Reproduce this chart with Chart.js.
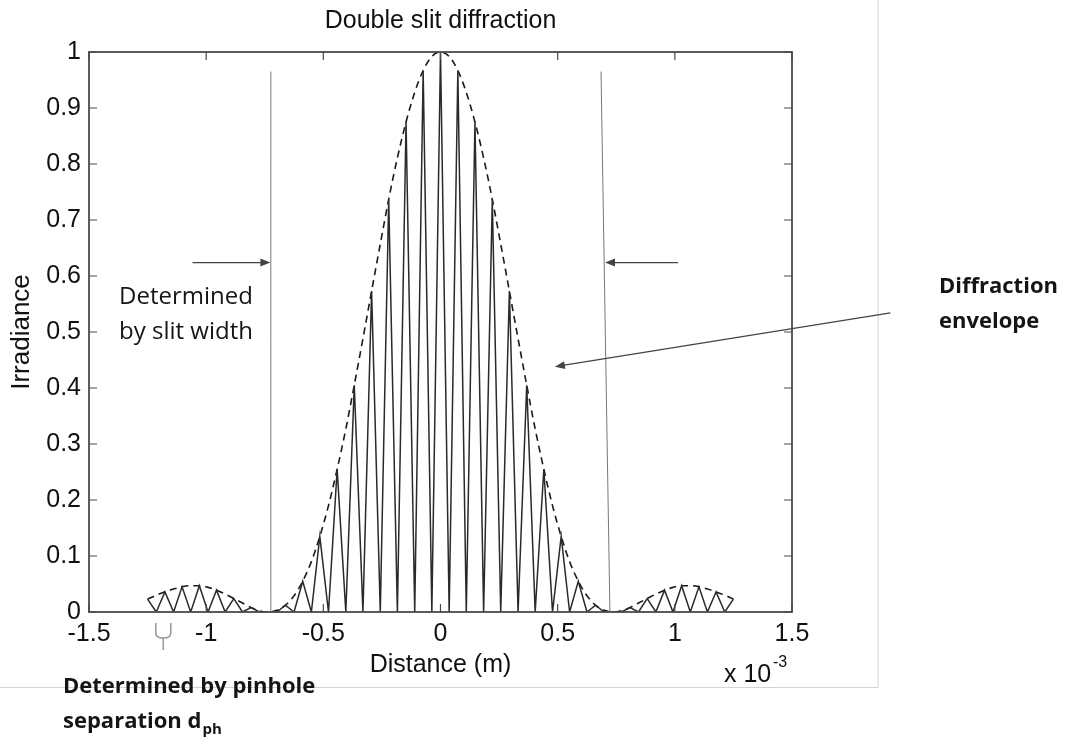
<!DOCTYPE html>
<html>
<head>
<meta charset="utf-8">
<script src="https://cdn.jsdelivr.net/npm/chart.js@4.4.1/dist/chart.umd.min.js"></script>
<style>
  html, body { margin: 0; padding: 0; background: #fff; }
  #wrap { position: relative; width: 1079px; height: 740px; }
</style>
</head>
<body>
<div id="wrap"><canvas id="slitChart"></canvas></div>
<script>
// Distance along the screen, in units of 1e-3 m (peaks and dark fringes alternate)
const distance = [
  -1.250, -1.213, -1.176, -1.139, -1.103, -1.066, -1.029, -0.992, -0.956, -0.919,
  -0.882, -0.845, -0.809, -0.772, -0.735, -0.698, -0.662, -0.625, -0.588, -0.551,
  -0.515, -0.478, -0.441, -0.404, -0.368, -0.331, -0.294, -0.257, -0.221, -0.184,
  -0.147, -0.110, -0.074, -0.037, 0,
  0.037, 0.074, 0.110, 0.147, 0.184, 0.221, 0.257, 0.294, 0.331, 0.368,
  0.404, 0.441, 0.478, 0.515, 0.551, 0.588, 0.625, 0.662, 0.698, 0.735,
  0.772, 0.809, 0.845, 0.882, 0.919, 0.956, 0.992, 1.029, 1.066, 1.103,
  1.139, 1.176, 1.213, 1.250
];

// Fringe irradiance at each distance
const irradiance = [
  0.023, 0, 0.036, 0, 0.045, 0, 0.047, 0, 0.039, 0,
  0.024, 0, 0.008, 0, 0, 0, 0.012, 0, 0.055, 0,
  0.135, 0, 0.255, 0, 0.405, 0, 0.573, 0, 0.737, 0,
  0.875, 0, 0.967, 0, 1,
  0, 0.967, 0, 0.875, 0, 0.737, 0, 0.573, 0, 0.405,
  0, 0.255, 0, 0.135, 0, 0.055, 0, 0.012, 0, 0,
  0, 0.008, 0, 0.024, 0, 0.039, 0, 0.047, 0, 0.045,
  0, 0.036, 0, 0.023
];

// Single-slit envelope at the same distances
const envelope = [
  0.023, 0.030, 0.036, 0.041, 0.045, 0.047, 0.047, 0.044, 0.039, 0.032,
  0.024, 0.016, 0.008, 0.002, 0, 0.003, 0.012, 0.029, 0.055, 0.090,
  0.135, 0.190, 0.255, 0.327, 0.405, 0.488, 0.573, 0.657, 0.737, 0.811,
  0.875, 0.928, 0.967, 0.992, 1,
  0.992, 0.967, 0.928, 0.875, 0.811, 0.737, 0.657, 0.573, 0.488, 0.405,
  0.327, 0.255, 0.190, 0.135, 0.090, 0.055, 0.029, 0.012, 0.003, 0,
  0.002, 0.008, 0.016, 0.024, 0.032, 0.039, 0.044, 0.047, 0.047, 0.045,
  0.041, 0.036, 0.030, 0.023
];

const xTicks = [-1.5, -1, -0.5, 0, 0.5, 1, 1.5];
const yTicks = [0, 0.1, 0.2, 0.3, 0.4, 0.5, 0.6, 0.7, 0.8, 0.9, 1];

const AXIS_FONT = "'Liberation Sans', Arial, sans-serif";
const NOTE_FONT = "'Open Sans', 'Noto Sans', sans-serif";

Chart.defaults.font.family = AXIS_FONT;
Chart.defaults.color = '#1a1a1a';

const toPoints = (xs, ys) => xs.map((x, i) => ({ x: x, y: ys[i] }));
const fmt = v => String(Math.round(v * 10) / 10);

function arrow(ctx, x1, y1, x2, y2, head) {
  const ang = Math.atan2(y2 - y1, x2 - x1);
  ctx.beginPath();
  ctx.moveTo(x1, y1);
  ctx.lineTo(x2 - Math.cos(ang) * head * 0.8, y2 - Math.sin(ang) * head * 0.8);
  ctx.stroke();
  ctx.beginPath();
  ctx.moveTo(x2, y2);
  ctx.lineTo(x2 - head * Math.cos(ang) + head * 0.4 * Math.sin(ang), y2 - head * Math.sin(ang) - head * 0.4 * Math.cos(ang));
  ctx.lineTo(x2 - head * Math.cos(ang) - head * 0.4 * Math.sin(ang), y2 - head * Math.sin(ang) + head * 0.4 * Math.cos(ang));
  ctx.closePath();
  ctx.fill();
}

// axes box with inward ticks on all four sides
const frame = {
  id: 'frame',
  afterDatasetsDraw(chart) {
    const { ctx, chartArea: a, scales: { x, y } } = chart;
    ctx.save();
    ctx.strokeStyle = '#4a4a4a';
    ctx.lineWidth = 1.2;
    ctx.beginPath();
    xTicks.forEach(v => {
      const px = x.getPixelForValue(v);
      ctx.moveTo(px, a.bottom); ctx.lineTo(px, a.bottom - 8);
      ctx.moveTo(px, a.top); ctx.lineTo(px, a.top + 8);
    });
    yTicks.forEach(v => {
      const py = y.getPixelForValue(v);
      ctx.moveTo(a.left, py); ctx.lineTo(a.left + 8, py);
      ctx.moveTo(a.right, py); ctx.lineTo(a.right - 8, py);
    });
    ctx.stroke();
    ctx.lineWidth = 1.8;
    ctx.strokeRect(a.left, a.top, a.right - a.left, a.bottom - a.top);
    ctx.restore();
  }
};

// notes, arrows, slit-width markers and the figure border
const notes = {
  id: 'notes',
  afterDraw(chart) {
    const { ctx, chartArea: a, scales: { x, y } } = chart;
    ctx.save();

    // border of the embedded figure
    ctx.strokeStyle = '#d4d4d4';
    ctx.lineWidth = 1;
    ctx.beginPath();
    ctx.moveTo(878, 0); ctx.lineTo(878, 687.5); ctx.lineTo(0, 687.5);
    ctx.stroke();

    // slit width markers
    ctx.strokeStyle = '#777';
    ctx.lineWidth = 1;
    ctx.beginPath();
    ctx.moveTo(x.getPixelForValue(-0.724), y.getPixelForValue(0.965));
    ctx.lineTo(x.getPixelForValue(-0.724), y.getPixelForValue(0));
    ctx.moveTo(x.getPixelForValue(0.685), y.getPixelForValue(0.965));
    ctx.lineTo(x.getPixelForValue(0.723), y.getPixelForValue(0));
    ctx.stroke();

    ctx.strokeStyle = '#444';
    ctx.fillStyle = '#444';
    ctx.lineWidth = 1.3;
    arrow(ctx, x.getPixelForValue(-1.058), y.getPixelForValue(0.624),
               x.getPixelForValue(-0.726), y.getPixelForValue(0.624), 10);
    arrow(ctx, x.getPixelForValue(1.014), y.getPixelForValue(0.624),
               x.getPixelForValue(0.702), y.getPixelForValue(0.624), 10);
    arrow(ctx, x.getPixelForValue(1.92), y.getPixelForValue(0.534),
               x.getPixelForValue(0.488), y.getPixelForValue(0.438), 10);

    // pinhole separation bracket
    const bx = x.getPixelForValue(-1.183);
    const hw = 7.5;
    ctx.strokeStyle = '#999';
    ctx.lineWidth = 1.5;
    ctx.beginPath();
    ctx.moveTo(bx - hw, 623);
    ctx.lineTo(bx - hw, 633);
    ctx.quadraticCurveTo(bx - hw, 638, bx, 638);
    ctx.quadraticCurveTo(bx + hw, 638, bx + hw, 633);
    ctx.lineTo(bx + hw, 623);
    ctx.moveTo(bx, 638);
    ctx.lineTo(bx, 650);
    ctx.stroke();

    // title and exponent
    ctx.fillStyle = '#111';
    ctx.textAlign = 'center';
    ctx.textBaseline = 'middle';
    ctx.font = '25px ' + AXIS_FONT;
    ctx.fillText('Double slit diffraction', (a.left + a.right) / 2, 21);
    ctx.textAlign = 'left';
    ctx.textBaseline = 'alphabetic';
    ctx.fillText('x 10', 724, 682);
    ctx.font = '16px ' + AXIS_FONT;
    ctx.fillText('-3', 773, 667);

    // text notes
    ctx.fillStyle = '#151515';
    ctx.textBaseline = 'middle';
    ctx.font = '24px ' + NOTE_FONT;
    ctx.fillText('Determined', 119, 297);
    ctx.fillText('by slit width', 119, 332);
    ctx.font = 'bold 22px ' + NOTE_FONT;
    ctx.fillText('Diffraction', 939, 287);
    ctx.fillText('envelope', 939, 322);
    ctx.fillText('Determined by pinhole', 63, 687);
    ctx.fillText('separation d', 63, 722);
    const w = ctx.measureText('separation d').width;
    ctx.font = 'bold 15px ' + NOTE_FONT;
    ctx.fillText('ph', 63 + w + 1, 730);

    ctx.restore();
  }
};

new Chart(document.getElementById('slitChart'), {
  type: 'scatter',
  data: {
    datasets: [
      {
        label: 'Irradiance',
        data: toPoints(distance, irradiance),
        showLine: true,
        borderColor: '#2a2a2a',
        borderWidth: 1.5,
        pointRadius: 0,
        tension: 0
      },
      {
        label: 'Envelope',
        data: toPoints(distance, envelope),
        showLine: true,
        borderColor: '#1a1a1a',
        borderWidth: 1.6,
        borderDash: [7, 5],
        pointRadius: 0,
        cubicInterpolationMode: 'monotone'
      }
    ]
  },
  options: {
    responsive: true,
    maintainAspectRatio: false,
    animation: false,
    events: [],
    layout: { padding: { top: 52, right: 287, left: 0, bottom: 0 } },
    plugins: {
      legend: { display: false },
      tooltip: { enabled: false }
    },
    scales: {
      x: {
        type: 'linear',
        min: -1.5,
        max: 1.5,
        afterFit: s => { s.height = 128; },
        afterBuildTicks: s => { s.ticks = xTicks.map(v => ({ value: v })); },
        grid: { display: false, drawTicks: false },
        border: { display: false },
        ticks: { padding: 7, maxRotation: 0, font: { size: 25 }, color: '#111', callback: fmt },
        title: { display: true, text: 'Distance (m)', font: { size: 25 }, color: '#111', padding: { top: 0, bottom: 60 } }
      },
      y: {
        min: 0,
        max: 1,
        afterFit: s => { s.width = 89; },
        afterBuildTicks: s => { s.ticks = yTicks.map(v => ({ value: v })); },
        grid: { display: false, drawTicks: false },
        border: { display: false },
        ticks: { padding: 8, font: { size: 25 }, color: '#111', callback: fmt },
        title: { display: true, text: 'Irradiance', font: { size: 26 }, color: '#111', padding: { top: 6, bottom: 0 } }
      }
    }
  },
  plugins: [frame, notes]
});
</script>
</body>
</html>
